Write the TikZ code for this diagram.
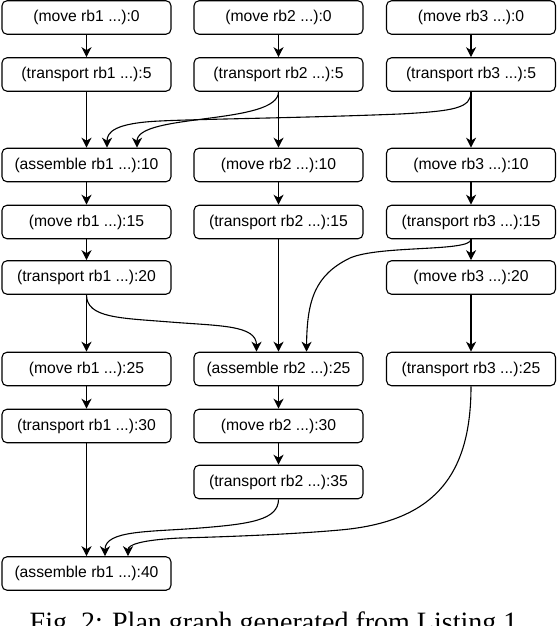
\documentclass[tikz,border=0pt]{standalone}
\usepackage{fontspec}
\setmainfont{Liberation Sans}
\newfontfamily\capfont{Liberation Serif}
\usetikzlibrary{arrows.meta}
\begin{document}
\begin{tikzpicture}[x=1pt,y=-1pt,
  box/.style={draw, rounded corners=5pt, minimum width=169pt, minimum height=33.5pt,
    inner sep=0pt, line width=1.1pt, font=\fontsize{15.7}{18}\selectfont},
  edge/.style={line width=1.1pt, -{Stealth[length=10pt,width=10pt,inset=3pt]}}]
\useasboundingbox (0,0) rectangle (558,626);
% column 1
\node[box] (a0)  at (86.5,17.5)  {(move rb1 ...):0};
\node[box] (a5)  at (86.5,74.5)  {(transport rb1 ...):5};
\node[box] (a10) at (86.5,165)   {(assemble rb1 ...):10};
\node[box] (a15) at (86.5,222)   {(move rb1 ...):15};
\node[box] (a20) at (86.5,277.5) {(transport rb1 ...):20};
\node[box] (a25) at (86.5,369)   {(move rb1 ...):25};
\node[box] (a30) at (86.5,426)   {(transport rb1 ...):30};
\node[box] (a40) at (86.5,573.5) {(assemble rb1 ...):40};
% column 2
\node[box] (b0)  at (278.5,17.5) {(move rb2 ...):0};
\node[box] (b5)  at (278.5,74.5) {(transport rb2 ...):5};
\node[box] (b10) at (278.5,165)  {(move rb2 ...):10};
\node[box] (b15) at (278.5,222)  {(transport rb2 ...):15};
\node[box] (b25) at (278.5,369)  {(assemble rb2 ...):25};
\node[box] (b30) at (278.5,426)  {(move rb2 ...):30};
\node[box] (b35) at (278.5,482)  {(transport rb2 ...):35};
% column 3
\node[box] (c0)  at (471,17.5)  {(move rb3 ...):0};
\node[box] (c5)  at (471,74.5)  {(transport rb3 ...):5};
\node[box] (c10) at (471,165)   {(move rb3 ...):10};
\node[box] (c15) at (471,222)   {(transport rb3 ...):15};
\node[box] (c20) at (471,277.5) {(move rb3 ...):20};
\node[box] (c25) at (471,369)   {(transport rb3 ...):25};
% straight edges
\draw[edge] (a0) -- (a5);
\draw[edge] (a5) -- (a10);
\draw[edge] (a10) -- (a15);
\draw[edge] (a15) -- (a20);
\draw[edge] (a20) -- (a25);
\draw[edge] (a25) -- (a30);
\draw[edge] (a30) -- (a40);
\draw[edge] (b0) -- (b5);
\draw[edge] (b5) -- (b10);
\draw[edge] (b10) -- (b15);
\draw[edge] (b15) -- (b25);
\draw[edge] (b25) -- (b30);
\draw[edge] (b30) -- (b35);
\draw[edge] (c0) -- (c5);
\draw[edge] (c5) -- (c10);
\draw[edge] (c10) -- (c15);
\draw[edge] (c15) -- (c20);
\draw[edge] (c20) -- (c25);
% curved edges
\draw[edge] (b5.south) .. controls (278.5,125) and (137,113) .. ([xshift=50.5pt]a10.north);
\draw[edge] (c5.south) .. controls (471,108) and (455,111) .. (400,114)
  .. controls (300,118) and (200,119) .. (160,121)
  .. controls (115,123) and (107,132) .. ([xshift=20.5pt]a10.north);
\draw[edge] (c15.south) .. controls (471,252) and (380,245) .. (350,258)
  .. controls (315,275) and (307,300) .. ([xshift=28pt]b25.north);
\draw[edge] (a20.south) .. controls (86.5,318) and (120,318) .. (170,322)
  .. controls (220,326) and (256.5,325) .. ([xshift=-22pt]b25.north);
\draw[edge] (b35.south) .. controls (278.5,520) and (250,524) .. (200,528)
  .. controls (150,532) and (105,530) .. ([xshift=18.5pt]a40.north);
\draw[edge] (c25.south) .. controls (471,480) and (430,522) .. (340,530)
  .. controls (290,534.5) and (220,537) .. (180,538)
  .. controls (140,540) and (128,545) .. ([xshift=41.5pt]a40.north);
% caption
\node[anchor=base, inner sep=0pt, font=\capfont\fontsize{28}{32}\selectfont] (cap) at (277,631.5)
  {Fig.~2: Plan graph generated from Listing 1.};
\end{tikzpicture}
\end{document}
